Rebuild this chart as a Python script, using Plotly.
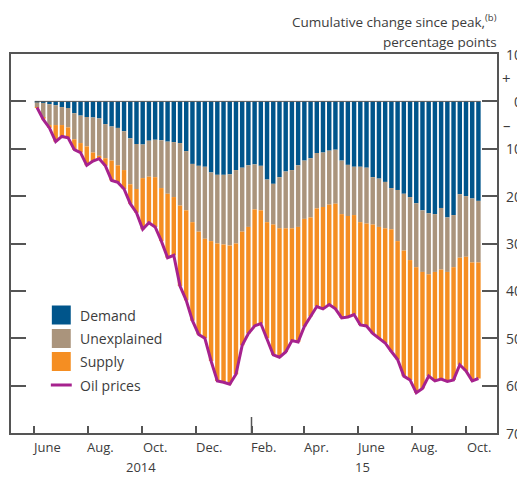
import pandas as pd
import plotly.graph_objects as go

# weekly contributions to the cumulative change since the peak (percentage points)
week_start = "2014-06-02"
demand = [-0.2, -0.3, -0.6, -0.8, -1.2, -1.4, -2.5, -3.0, -3.3, -3.4, -3.6, -4.8,
          -5.3, -5.6, -6.3, -7.8, -9.0, -9.1, -8.3, -8.1, -8.2, -8.5, -8.6, -8.8,
          -10.5, -13.2, -13.6, -13.8, -15.0, -15.5, -15.5, -15.4, -14.5, -14.0, -13.5, -13.3,
          -13.6, -16.5, -17.4, -16.0, -14.8, -14.5, -13.5, -12.5, -12.0, -10.9, -10.8, -10.4,
          -10.2, -12.5, -13.4, -13.8, -13.8, -14.0, -16.0, -16.3, -17.0, -18.3, -18.7, -19.5,
          -20.2, -21.5, -23.0, -23.6, -23.8, -22.5, -24.5, -24.0, -19.6, -20.0, -20.5, -21.0]
unexplained = [-1.0, -3.2, -4.4, -4.2, -3.8, -4.1, -5.5, -5.8, -6.2, -7.4, -7.9, -7.2,
               -7.2, -7.9, -8.2, -9.7, -9.5, -7.1, -7.6, -7.9, -10.1, -11.0, -11.6, -13.2,
               -12.5, -12.3, -13.9, -15.2, -14.5, -14.5, -14.7, -15.0, -15.5, -13.5, -13.0, -9.5,
               -9.4, -9.0, -8.6, -10.8, -12.0, -12.3, -13.0, -12.3, -12.5, -11.7, -11.5, -11.4,
               -11.4, -11.3, -10.8, -10.2, -11.7, -11.8, -10.0, -10.2, -9.8, -8.7, -10.8, -12.0,
               -13.3, -13.5, -13.0, -12.9, -12.2, -13.0, -11.5, -11.0, -13.4, -12.8, -13.5, -13.0]
supply = [-0.1, -0.3, -0.6, -3.5, -2.4, -2.2, -2.2, -2.0, -4.0, -1.8, -0.6, -1.6,
          -4.2, -3.6, -4.0, -4.1, -5.0, -10.8, -9.7, -10.5, -11.2, -13.5, -12.3, -17.0,
          -19.0, -20.8, -21.7, -21.0, -25.3, -29.0, -29.1, -29.3, -27.6, -24.0, -22.5, -24.6,
          -23.9, -24.5, -27.5, -27.2, -26.1, -23.7, -24.3, -22.7, -20.9, -20.7, -21.5, -21.1,
          -22.2, -21.9, -21.3, -21.0, -21.7, -21.6, -23.0, -23.5, -24.2, -25.8, -25.0, -26.5,
          -25.3, -26.5, -24.6, -21.5, -23.0, -23.1, -23.1, -23.8, -22.6, -24.1, -25.0, -24.5]
oil = [-1.3, -3.8, -5.6, -8.5, -7.4, -7.7, -10.2, -10.8, -13.5, -12.6, -12.1, -13.6,
       -16.7, -17.1, -18.5, -21.6, -23.5, -27.0, -25.6, -26.5, -29.5, -33.0, -32.5, -39.0,
       -42.0, -46.3, -49.2, -50.0, -54.8, -59.0, -59.3, -59.7, -57.6, -51.5, -49.0, -47.4,
       -46.9, -50.0, -53.5, -54.0, -52.9, -50.5, -50.8, -47.5, -45.4, -43.3, -43.8, -42.9,
       -43.8, -45.7, -45.5, -45.0, -47.2, -47.4, -49.0, -50.0, -51.0, -52.8, -54.5, -58.0,
       -58.8, -61.5, -60.6, -58.0, -59.0, -58.6, -59.1, -58.8, -55.6, -56.9, -59.0, -58.5]

month_ticks = ["2014-06-01", "2014-08-01", "2014-10-01", "2014-12-01", "2015-02-01",
               "2015-04-01", "2015-06-01", "2015-08-01", "2015-10-01"]
month_labels = ["June", "Aug.", "Oct.", "Dec.", "Feb.", "Apr.", "June", "Aug.", "Oct."]
year_labels = ["2014", "15"]
year_dates = ["2014-09-30", "2015-06-06"]
y_ticks = [10, 0, -10, -20, -30, -40, -50, -60, -70]

weeks = pd.date_range(week_start, periods=len(demand), freq="7D") + pd.Timedelta(hours=60)
bar_width = 5 * 86400000

colors = {"Demand": "#00558B", "Unexplained": "#AA947C", "Supply": "#F58E22"}
oil_color = "#A6228E"
text_color = "#3c3c3c"
axis_color = "#555555"
font = "Open Sans"

# the page body adds an 8px margin, so the figure is drawn 8px smaller and shifted
OFF = 8
W, H = 525 - OFF, 478 - OFF
L, R, T, B = 9 - OFF, 497 - OFF, 54 - OFF, 433 - OFF


def px_x(px):
    return (px - OFF - L) / (R - L)


def px_y(py):
    return (B - (py - OFF)) / (B - T)


fig = go.Figure()
for name, vals in [("Demand", demand), ("Unexplained", unexplained), ("Supply", supply)]:
    fig.add_trace(go.Bar(x=weeks, y=vals, width=bar_width, name=name,
                         marker=dict(color=colors[name], line=dict(width=0))))
fig.add_trace(go.Scatter(x=weeks, y=oil, mode="lines", name="Oil prices",
                         line=dict(color=oil_color, width=3)))

ann = []
# right-hand value labels (positive up, negative down)
for v in y_ticks:
    ann.append(dict(x=px_x(524), y=v, xref="paper", yref="y", text=str(abs(v)),
                    xanchor="right", yanchor="middle", showarrow=False,
                    font=dict(size=14, color=text_color)))
ann.append(dict(x=px_x(513), y=5, xref="paper", yref="y", text="+", showarrow=False,
                yanchor="middle", font=dict(size=15, color=text_color)))
ann.append(dict(x=px_x(513), y=-5, xref="paper", yref="y", text="\u2013", showarrow=False,
                yanchor="middle", font=dict(size=15, color=text_color)))
# month labels sit mid-month
for d, lab in zip(month_ticks, month_labels):
    mid = pd.Timestamp(d) + pd.Timedelta(days=14)
    ann.append(dict(x=mid, y=px_y(447), xref="x", yref="paper", text=lab,
                    yanchor="middle", showarrow=False,
                    font=dict(size=13, color=text_color)))
for d, lab in zip(year_dates, year_labels):
    ann.append(dict(x=d, y=px_y(467), xref="x", yref="paper", text=lab,
                    yanchor="middle", showarrow=False,
                    font=dict(size=13, color=text_color)))
ann.append(dict(x=px_x(499), y=px_y(21), xref="paper", yref="paper",
                text="Cumulative change since peak,<sup>(b)</sup>", xanchor="right",
                yanchor="middle", showarrow=False, font=dict(size=13.5, color=text_color)))
ann.append(dict(x=px_x(499), y=px_y(42.5), xref="paper", yref="paper",
                text="percentage points", xanchor="right", yanchor="middle",
                showarrow=False, font=dict(size=13.5, color=text_color)))

# hand-drawn legend
shapes = []
legend_rows = [("Demand", 315), ("Unexplained", 338.5), ("Supply", 361.5)]
for name, cy in legend_rows:
    shapes.append(dict(type="rect", xref="paper", yref="paper",
                       x0=px_x(50), x1=px_x(69), y0=px_y(cy + 9.5), y1=px_y(cy - 9.5),
                       fillcolor=colors[name], line=dict(width=0)))
    ann.append(dict(x=px_x(76), y=px_y(cy), xref="paper", yref="paper", text=name,
                    xanchor="left", yanchor="middle", showarrow=False,
                    font=dict(size=14, color=text_color)))
shapes.append(dict(type="line", xref="paper", yref="paper", x0=px_x(49), x1=px_x(70),
                   y0=px_y(385), y1=px_y(385), line=dict(color=oil_color, width=3)))
ann.append(dict(x=px_x(76), y=px_y(385), xref="paper", yref="paper", text="Oil prices",
                xanchor="left", yanchor="middle", showarrow=False,
                font=dict(size=14, color=text_color)))

# zero line over the bars and the longer year tick
shapes.append(dict(type="line", xref="x", yref="y", x0=weeks[0] - pd.Timedelta(hours=60),
                   x1=weeks[-1] + pd.Timedelta(hours=60), y0=0, y1=0,
                   line=dict(color=axis_color, width=1), layer="above"))
shapes.append(dict(type="line", xref="x", yref="paper", x0="2015-02-01", x1="2015-02-01",
                   y0=0, y1=16 / (B - T), line=dict(color=axis_color, width=1.5)))

fig.update_layout(
    width=W, height=H,
    margin=dict(l=L, r=W - R, t=T, b=H - B),
    paper_bgcolor="white", plot_bgcolor="white",
    barmode="relative", showlegend=False,
    font=dict(family=font, color=text_color),
    annotations=ann, shapes=shapes,
    xaxis=dict(type="date", range=["2014-05-06 05:00", "2015-11-04 10:00"],
               tickvals=month_ticks, showticklabels=False, ticks="inside", ticklen=7,
               tickwidth=1.5, tickcolor=axis_color, showgrid=False, zeroline=False,
               showline=True, linecolor=axis_color, linewidth=1.5, mirror=True),
    yaxis=dict(range=[-70, 10], side="right", tickvals=y_ticks, showticklabels=False,
               ticks="inside", ticklen=15, tickwidth=1.5, tickcolor=axis_color,
               showgrid=False, zeroline=False, showline=True, linecolor=axis_color,
               linewidth=1.5, mirror="allticks"),
)

fig.write_html("out.html")
